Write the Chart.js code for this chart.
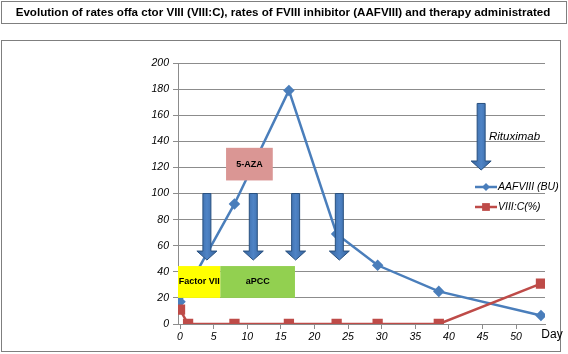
<!DOCTYPE html>
<html>
<head>
<meta charset="utf-8">
<script src="https://cdn.jsdelivr.net/npm/chart.js@4.4.0/dist/chart.umd.min.js"></script>
<style>
  body { margin: 0; background: #fff; }
  canvas { display: block; }
</style>
</head>
<body>
<canvas id="chart" width="568" height="354"></canvas>
<script>
// --- Data ---
const titleText = 'Evolution of rates offa ctor VIII (VIII:C), rates of FVIII inhibitor (AAFVIII) and therapy administrated';
const seriesNames = ['AAFVIII (BU)', 'VIII:C(%)'];
const aafDays = [0, 8.1, 16.2, 23.3, 29.4, 38.5, 53.7];
const aafValues = [17, 92, 179, 69, 45, 25, 6.5];
const vcDays = [0, 1.2, 8.1, 16.2, 23.3, 29.4, 38.5, 53.7];
const vcValues = [11, 0, 0, 0, 0, 0, 0, 31];
const xTicks = [0, 5, 10, 15, 20, 25, 30, 35, 40, 45, 50];
const yTicks = [0, 20, 40, 60, 80, 100, 120, 140, 160, 180, 200];

// therapy arrows (day, top value, tip value)
const arrowDays = [4, 10.9, 17.2, 23.7, 44.8];
const arrowTops = [100, 100, 100, 100, 169];
const arrowTips = [49, 49, 49, 49, 118];

// therapy boxes (day range, value range)
const boxLabels = ['Factor VII', 'aPCC', '5-AZA'];
const boxFrom = [-0.3, 6, 6.85];
const boxTo = [6, 17.1, 13.8];
const boxLow = [20, 20, 110];
const boxHigh = [44.4, 44.4, 135];

const BLUE = '#4a7ebb';
const RED = '#be4b48';
const GRID = '#8c8c8c';

const toPoints = (xs, ys) => xs.map((x, i) => ({ x: x, y: ys[i] }));

// --- Frame, title, annotations, legend ---
const decorations = {
    id: 'decorations',
    beforeDraw(chart) {
        const ctx = chart.ctx;
        ctx.save();
        ctx.fillStyle = '#fff';
        ctx.fillRect(0, 0, chart.width, chart.height);
        ctx.strokeStyle = '#7f7f7f';
        ctx.lineWidth = 1;
        ctx.strokeRect(1.5, 1.5, 565, 22);
        ctx.strokeRect(1.5, 40.5, 559, 311);
        ctx.fillStyle = '#000';
        ctx.font = 'bold 11.6px "Liberation Sans", Arial, sans-serif';
        ctx.textAlign = 'center';
        ctx.textBaseline = 'middle';
        ctx.fillText(titleText, 283, 13);
        ctx.restore();
    },
    afterDatasetsDraw(chart) {
        const ctx = chart.ctx;
        const xs = chart.scales.x, ys = chart.scales.y;
        ctx.save();

        // boxes
        const boxColors = ['#ffff00', '#92d050', '#da9694'];
        boxLabels.forEach((label, i) => {
            const l = xs.getPixelForValue(boxFrom[i]);
            const r = xs.getPixelForValue(boxTo[i]);
            const t = ys.getPixelForValue(boxHigh[i]);
            const b = ys.getPixelForValue(boxLow[i]);
            ctx.fillStyle = boxColors[i];
            ctx.fillRect(l, t, r - l, b - t);
            ctx.fillStyle = '#000';
            ctx.font = 'bold 9px "Liberation Sans", Arial, sans-serif';
            ctx.textAlign = 'center';
            ctx.textBaseline = 'middle';
            ctx.fillText(label, (l + r) / 2, (t + b) / 2);
        });

        // arrows
        arrowDays.forEach((d, i) => {
            const x = xs.getPixelForValue(d);
            const top = ys.getPixelForValue(arrowTops[i]);
            const tip = ys.getPixelForValue(arrowTips[i]);
            const neck = tip - 9;
            ctx.beginPath();
            ctx.moveTo(x - 4, top);
            ctx.lineTo(x + 4, top);
            ctx.lineTo(x + 4, neck);
            ctx.lineTo(x + 10, neck);
            ctx.lineTo(x, tip);
            ctx.lineTo(x - 10, neck);
            ctx.lineTo(x - 4, neck);
            ctx.closePath();
            const grad = ctx.createLinearGradient(x - 10, 0, x + 10, 0);
            grad.addColorStop(0, '#33619b');
            grad.addColorStop(0.5, '#4f84c6');
            grad.addColorStop(1, '#33619b');
            ctx.fillStyle = grad;
            ctx.fill();
            ctx.strokeStyle = '#28507f';
            ctx.lineWidth = 1;
            ctx.stroke();
        });

        // Rituximab label
        ctx.fillStyle = '#000';
        ctx.font = 'italic 11.5px "Liberation Sans", Arial, sans-serif';
        ctx.textAlign = 'left';
        ctx.textBaseline = 'middle';
        ctx.fillText('Rituximab', 489, 137);

        // legend
        const legendRows = [
            { y: 187, color: BLUE, style: 'rectRot', r: 4 },
            { y: 207, color: RED, style: 'rect', r: 5.5 }
        ];
        legendRows.forEach((row, i) => {
            ctx.strokeStyle = row.color;
            ctx.lineWidth = 2.5;
            ctx.beginPath();
            ctx.moveTo(475, row.y);
            ctx.lineTo(497, row.y);
            ctx.stroke();
            ctx.fillStyle = row.color;
            Chart.helpers.drawPoint(ctx, {
                pointStyle: row.style, radius: row.r, borderWidth: 0, rotation: 0
            }, 486, row.y);
            ctx.fillStyle = '#000';
            ctx.font = 'italic 10.5px "Liberation Sans", Arial, sans-serif';
            ctx.textAlign = 'left';
            ctx.fillText(seriesNames[i], 498, row.y);
        });

        // axis unit label
        ctx.font = '12px "Liberation Sans", Arial, sans-serif';
        ctx.textAlign = 'center';
        ctx.fillText('Day', 552, 335);
        ctx.restore();
    }
};

const tickFont = { family: '"Liberation Sans", Arial, sans-serif', size: 10.5, style: 'italic' };

new Chart(document.getElementById('chart').getContext('2d'), {
    type: 'scatter',
    data: {
        datasets: [
            {
                label: seriesNames[0],
                data: toPoints(aafDays, aafValues),
                showLine: true,
                borderColor: BLUE,
                backgroundColor: BLUE,
                borderWidth: 2.5,
                pointStyle: 'rectRot',
                pointRadius: 4,
                order: 1
            },
            {
                label: seriesNames[1],
                data: toPoints(vcDays, vcValues),
                showLine: true,
                borderColor: RED,
                backgroundColor: RED,
                borderWidth: 2.5,
                pointStyle: 'rect',
                pointRadius: 5.5,
                order: 0
            }
        ]
    },
    options: {
        responsive: false,
        animation: false,
        layout: { padding: { top: 63, right: 23, bottom: 0, left: 0 } },
        plugins: {
            legend: { display: false },
            tooltip: { enabled: false },
            title: { display: false }
        },
        scales: {
            x: {
                type: 'linear',
                min: -0.3,
                max: 54.3,
                afterBuildTicks: (scale) => { scale.ticks = xTicks.map(v => ({ value: v })); },
                afterFit: (scale) => { scale.height = 30; },
                grid: { drawOnChartArea: false, color: GRID, tickLength: 5 },
                border: { color: GRID },
                ticks: { color: '#000', font: tickFont, padding: 2, maxRotation: 0 }
            },
            y: {
                min: 0,
                max: 200,
                afterBuildTicks: (scale) => { scale.ticks = yTicks.map(v => ({ value: v })); },
                afterFit: (scale) => { scale.width = 178; },
                grid: { color: GRID, tickLength: 5 },
                border: { color: GRID },
                ticks: { color: '#000', font: tickFont, padding: 4 }
            }
        }
    },
    plugins: [decorations]
});
</script>
</body>
</html>
